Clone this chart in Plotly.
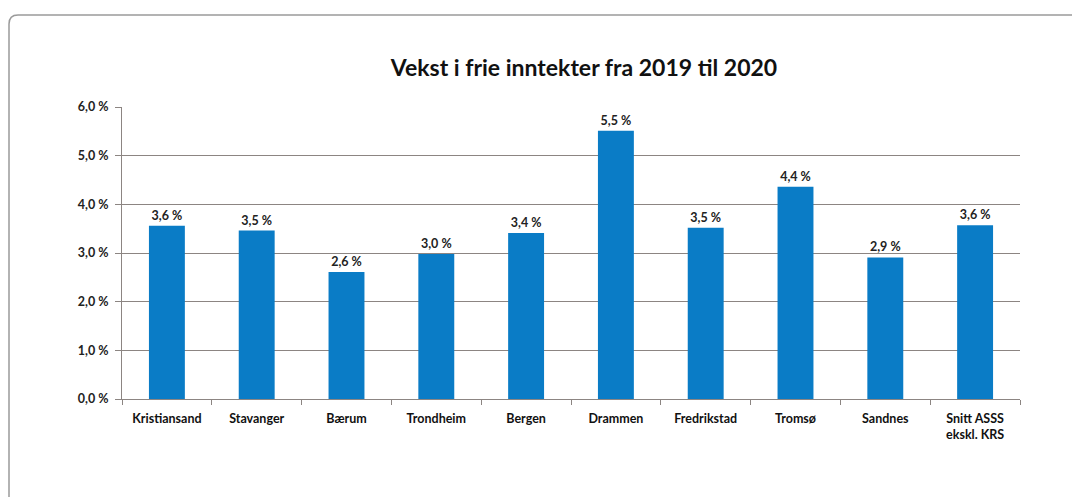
import plotly.graph_objects as go

categories = ["Kristiansand", "Stavanger", "Bærum", "Trondheim", "Bergen",
              "Drammen", "Fredrikstad", "Tromsø", "Sandnes", "Snitt ASSS<br>ekskl. KRS"]
values = [3.56, 3.46, 2.61, 2.98, 3.41, 5.51, 3.52, 4.36, 2.91, 3.57]
tick_vals = [0, 1, 2, 3, 4, 5, 6]

OFF = 8  # page body margin
W, H = 1080 - OFF, 497 - OFF
L, R, T, B = 122 - OFF, 1020 - OFF, 107 - OFF, 399 - OFF
pw, ph = R - L, B - T

def px(x):
    return (x - OFF - L) / pw

def py(y):
    return (B - (y - OFF)) / ph

# rounded border box path (paper coords, given in page pixels)
x0, y0, x1, y1, r = 9, 15, 1095, 520, 9
path = (f"M {px(x0)},{py(y1)} L {px(x0)},{py(y0 + r)} "
        f"Q {px(x0)},{py(y0)} {px(x0 + r)},{py(y0)} "
        f"L {px(x1)},{py(y0)}")

fig = go.Figure(go.Bar(
    x=categories, y=values,
    marker=dict(color="#0a7cc6", line=dict(width=0)),
    texttemplate="<b>%{y:.1f} %</b>", textposition="outside",
    textfont=dict(family="Lato", size=12.5, color="#222222"),
    cliponaxis=False, width=0.4,
))

fig.update_layout(
    width=W, height=H,
    margin=dict(l=L, r=W - R, t=T, b=H - B),
    paper_bgcolor="white", plot_bgcolor="white",
    separators=", ",
    showlegend=False,
    font=dict(family="Lato", color="#222222"),
    title=dict(text="<b>Vekst i frie inntekter fra 2019 til 2020</b>",
               x=(584 - OFF) / W, xref="container", xanchor="center",
               y=1 - (68 - OFF) / H, yref="container", yanchor="middle",
               font=dict(family="Lato", size=23, color="#111111")),
    shapes=[dict(type="path", path=path, xref="paper", yref="paper",
                 line=dict(color="#9a9a9a", width=1.5), layer="above")],
)

fig.update_yaxes(range=[0, 6], tickvals=tick_vals,
                 ticktext=[f"<b>{v:.1f} %</b>".replace(".", ",") for v in tick_vals],
                 showgrid=True, gridcolor="#8c8582", gridwidth=1,
                 showline=True, linecolor="#8c8582", linewidth=1,
                 ticks="outside", ticklen=6, tickcolor="#8c8582",
                 ticklabelstandoff=4,
                 tickfont=dict(family="Lato", size=12.5, color="#222222"),
                 zeroline=False)
fig.update_xaxes(showline=True, linecolor="#8c8582", linewidth=1,
                 ticks="outside", tickson="boundaries", ticklen=5, tickcolor="#8c8582",
                 ticklabelstandoff=8,
                 tickvals=categories, ticktext=[f"<b>{c}</b>" for c in categories],
                 tickfont=dict(family="Lato", size=12.5, color="#111111"),
                 tickangle=0)

fig.write_html("out.html")
